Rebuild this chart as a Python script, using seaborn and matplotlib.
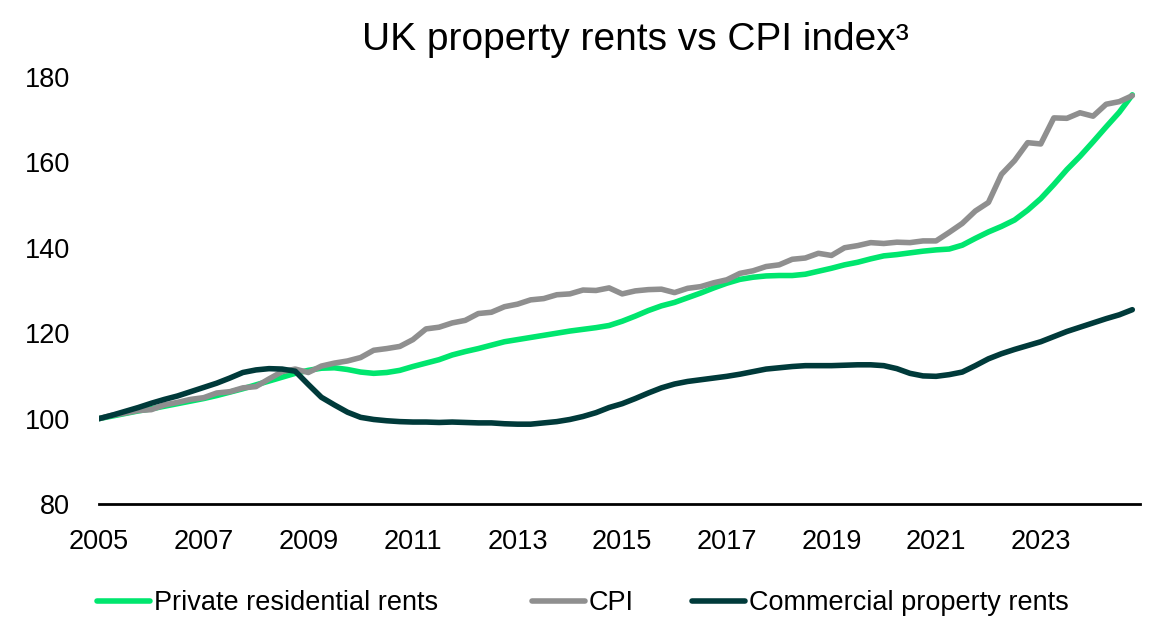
import numpy as np
import pandas as pd
import matplotlib
matplotlib.use("Agg")
import matplotlib.pyplot as plt
import seaborn as sns

# Quarterly index values, 2005 Q1 = 100
years = [2005 + q / 4 for q in range(80)]

private_rents = [
    100.0, 100.6, 101.2, 101.8, 102.3, 102.9, 103.5, 104.1,
    104.7, 105.4, 106.2, 107.0, 107.9, 108.8, 109.7, 110.6,
    111.3, 111.8, 111.9, 111.5, 110.9, 110.6, 110.8, 111.3,
    112.2, 113.0, 113.8, 114.9, 115.7, 116.4, 117.2, 118.0,
    118.5, 119.0, 119.5, 120.0, 120.5, 120.9, 121.3, 121.8,
    122.8, 124.0, 125.3, 126.4, 127.2, 128.3, 129.4, 130.6,
    131.7, 132.6, 133.1, 133.4, 133.5, 133.5, 133.8, 134.5,
    135.2, 136.0, 136.6, 137.4, 138.1, 138.4, 138.8, 139.2,
    139.5, 139.7, 140.6, 142.2, 143.7, 145.0, 146.5, 148.8,
    151.5, 154.8, 158.3, 161.4, 164.8, 168.3, 171.7, 175.8,
]

cpi = [
    100.0, 100.8, 101.3, 101.9, 102.1, 103.2, 103.8, 104.5,
    104.9, 106.0, 106.3, 107.2, 107.5, 109.3, 111.0, 111.6,
    110.8, 112.3, 113.0, 113.5, 114.3, 116.0, 116.4, 116.9,
    118.5, 121.0, 121.4, 122.4, 123.0, 124.6, 124.9, 126.2,
    126.8, 127.8, 128.1, 129.0, 129.2, 130.1, 130.0, 130.6,
    129.2, 129.9, 130.2, 130.3, 129.5, 130.5, 130.9, 131.8,
    132.5, 134.0, 134.6, 135.6, 136.0, 137.3, 137.6, 138.7,
    138.2, 140.0, 140.5, 141.2, 141.0, 141.3, 141.2, 141.6,
    141.6, 143.6, 145.7, 148.6, 150.6, 157.2, 160.4, 164.6,
    164.3, 170.4, 170.3, 171.6, 170.8, 173.6, 174.2, 175.6,
]

commercial_rents = [
    100.0, 100.8, 101.7, 102.6, 103.6, 104.5, 105.3, 106.3,
    107.3, 108.3, 109.5, 110.8, 111.4, 111.7, 111.6, 111.1,
    108.0, 105.0, 103.2, 101.5, 100.3, 99.8, 99.5, 99.3,
    99.2, 99.2, 99.1, 99.2, 99.1, 99.0, 99.0, 98.8,
    98.7, 98.7, 99.0, 99.3, 99.8, 100.5, 101.4, 102.6,
    103.5, 104.7, 106.0, 107.2, 108.1, 108.7, 109.1, 109.5,
    109.9, 110.4, 111.0, 111.6, 111.9, 112.2, 112.4, 112.4,
    112.4, 112.5, 112.6, 112.6, 112.4, 111.7, 110.6, 110.0,
    109.9, 110.3, 110.9, 112.4, 114.0, 115.2, 116.2, 117.1,
    118.0, 119.2, 120.4, 121.4, 122.4, 123.4, 124.3, 125.5,
]

series_names = ["Private residential rents", "CPI", "Commercial property rents"]
series_colors = ["#00E66E", "#8F8F8F", "#003A3A"]
x_ticks = list(range(2005, 2025, 2))
y_ticks = [80, 100, 120, 140, 160, 180]

df = pd.concat([
    pd.DataFrame({"year": years, "index": vals, "series": name})
    for name, vals in zip(series_names, [private_rents, cpi, commercial_rents])
], ignore_index=True)

sns.set_theme(style="white")
plt.rcParams["font.family"] = ["Liberation Sans", "DejaVu Sans"]
plt.rcParams["text.color"] = "#000000"

fig = plt.figure(figsize=(11.54, 6.2), dpi=100)
ax = fig.add_axes([0.0858, 0.187, 0.9022, 0.689])

sns.lineplot(
    data=df, x="year", y="index", hue="series",
    hue_order=series_names, palette=dict(zip(series_names, series_colors)),
    linewidth=4.0, ax=ax, legend=False,
)
for line in ax.get_lines():
    line.set_solid_capstyle("round")
    line.set_solid_joinstyle("round")

ax.set_xlim(2005, 2024.9)
ax.set_ylim(80, 180)
ax.set_xticks(x_ticks)
ax.set_yticks(y_ticks)
ax.set_xticklabels([str(t) for t in x_ticks])
ax.set_yticklabels([str(t) for t in y_ticks])
ax.set_xlabel("")
ax.set_ylabel("")
ax.tick_params(axis="both", length=0, labelsize=19.5, colors="#000000")
ax.tick_params(axis="y", pad=21)
ax.tick_params(axis="x", pad=18)
for side in ["left", "right", "top"]:
    ax.spines[side].set_visible(False)
ax.spines["bottom"].set_color("#000000")
ax.spines["bottom"].set_linewidth(2)
ax.grid(False)

# One legend entry per series, laid out in a single row under the axis
legend_x = [0.084, 0.461, 0.600]
for name, color, lx in zip(series_names, series_colors, legend_x):
    handle = plt.Line2D([], [], color=color, linewidth=4.0, solid_capstyle="round")
    leg = fig.legend(
        [handle], [name], loc="center left", bbox_to_anchor=(lx, 0.027),
        frameon=False, fontsize=19.5, handlelength=1.95,
        handletextpad=0.15, borderpad=0, borderaxespad=0,
    )
    for txt in leg.get_texts():
        txt.set_color("#000000")

fig.text(0.551, 0.936, "UK property rents vs CPI index³", ha="center",
         va="center", fontsize=28, color="#000000")

fig.savefig("out.png", dpi=100, facecolor="white")
